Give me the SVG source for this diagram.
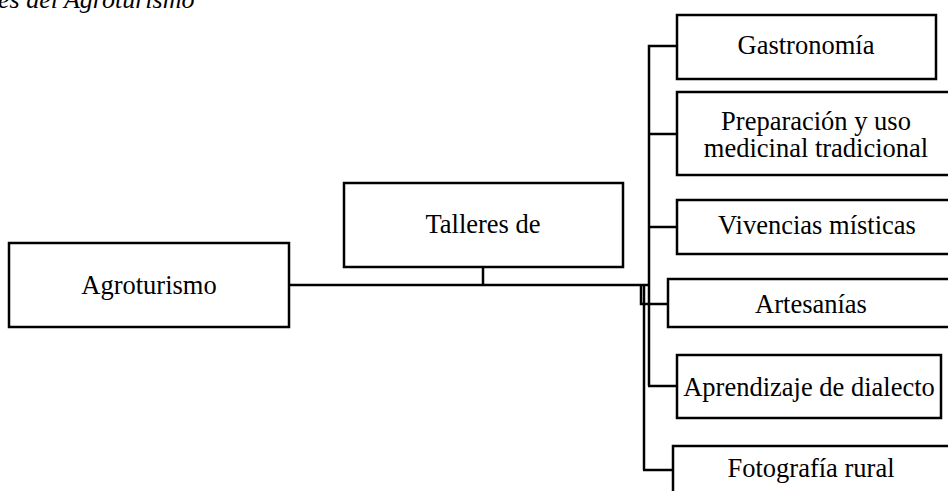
<svg xmlns="http://www.w3.org/2000/svg" width="948" height="491" viewBox="0 0 948 491">
<style>
.box{fill:#fff;stroke:#000;stroke-width:2.5}
.t{font-family:"Liberation Serif","Times New Roman",serif;font-size:26.5px;fill:#000;text-anchor:middle}
.ln{fill:none;stroke:#000;stroke-width:2.5}
</style>
<rect width="948" height="491" fill="#fff"/>
<text x="-2" y="8" style="font-family:'Liberation Serif','Times New Roman',serif;font-size:26px;font-style:italic">es del Agroturismo</text>
<g id="connectors">
<line class="ln" x1="289" y1="285" x2="650" y2="285" stroke-width="3.5"/>
<line class="ln" x1="483" y1="267" x2="483" y2="285" stroke-width="2"/>
<polyline class="ln" points="677,46 649,46 649,285"/>
<line class="ln" x1="649" y1="134" x2="677" y2="134"/>
<line class="ln" x1="649" y1="227" x2="677" y2="227"/>
<polyline class="ln" points="641,285 641,304 668,304" stroke-width="2"/>
<line class="ln" x1="644" y1="285" x2="644" y2="470" stroke-width="2"/>
<line class="ln" x1="649" y1="285" x2="649" y2="386" stroke-width="2"/>
<line class="ln" x1="648" y1="386" x2="677" y2="386"/>
<line class="ln" x1="643" y1="470" x2="673" y2="470"/>
</g>
<g id="agroturismo"><rect class="box" x="9" y="243" width="280" height="84"/><text class="t" x="149" y="294">Agroturismo</text></g>
<g id="talleres"><rect class="box" x="344" y="183" width="279" height="84"/><text class="t" x="483" y="233">Talleres de</text></g>
<g id="gastronomia"><rect class="box" x="677" y="15" width="259" height="64"/><text class="t" x="806" y="54">Gastronomía</text></g>
<g id="preparacion"><rect class="box" x="677" y="92" width="280" height="83"/><text class="t" x="816" y="130">Preparación y uso<tspan x="816" y="157">medicinal tradicional</tspan></text></g>
<g id="vivencias"><rect class="box" x="677" y="200" width="290" height="54"/><text class="t" x="817" y="234">Vivencias místicas</text></g>
<g id="artesanias"><rect class="box" x="668" y="279" width="290" height="48"/><text class="t" x="811" y="313">Artesanías</text></g>
<g id="aprendizaje"><rect class="box" x="677" y="355" width="264" height="63"/><text class="t" x="809" y="396">Aprendizaje de dialecto</text></g>
<g id="fotografia"><rect class="box" x="673" y="446" width="290" height="60"/><text class="t" x="811" y="477">Fotografía rural</text></g>
</svg>
